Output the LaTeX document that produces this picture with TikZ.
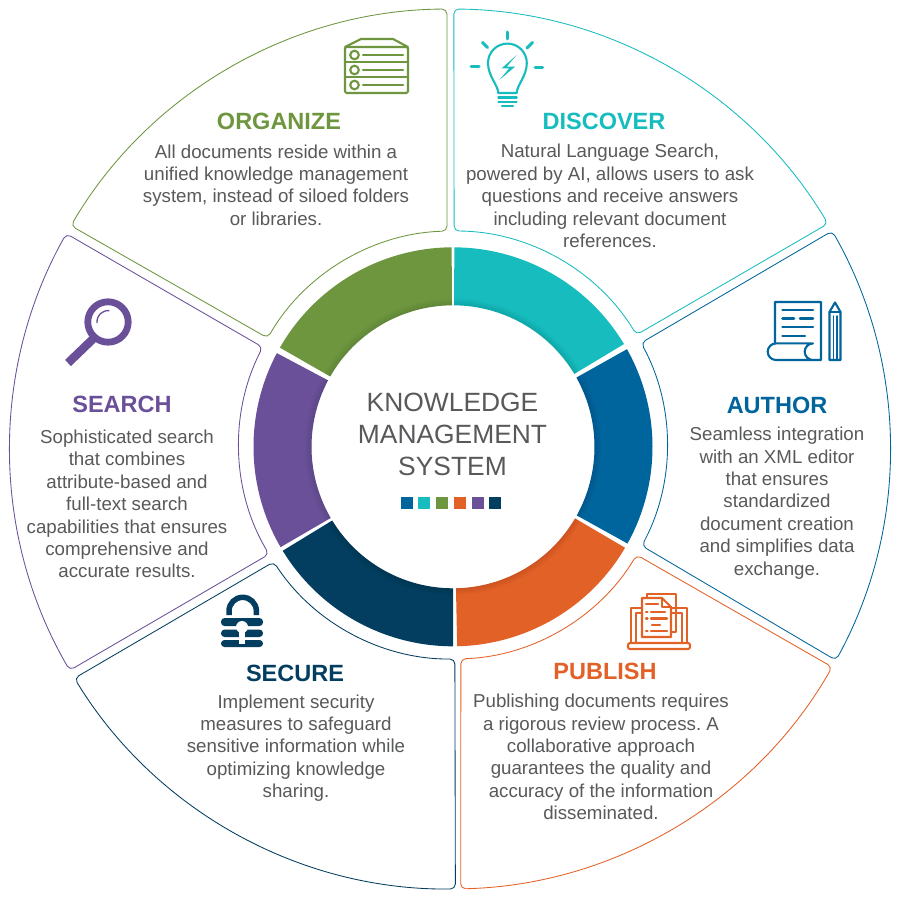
\documentclass[tikz,border=0pt]{standalone}
\usepackage{fontspec}
\setmainfont{Liberation Sans}
\frenchspacing
\definecolor{cCyan}{HTML}{17BCBE}
\definecolor{cGreen}{HTML}{6E963F}
\definecolor{cBlue}{HTML}{00659C}
\definecolor{cOrange}{HTML}{E26127}
\definecolor{cPurple}{HTML}{6A5098}
\definecolor{cNavy}{HTML}{033E60}
\definecolor{cText}{HTML}{58595B}
\tikzset{
  x=1pt,y=1pt,
  paneltitle/.style={font=\fontsize{23.5}{26}\selectfont\bfseries,inner sep=0pt,anchor=center},
  panelbody/.style={font=\fontsize{18.7}{22.4}\selectfont,text=cText,align=center,inner sep=0pt,anchor=center},
  centertext/.style={font=\fontsize{26.4}{32.3}\selectfont,text=cText,align=center,inner sep=0pt,anchor=center},
  chip/.style={inner sep=0pt,minimum size=12pt,draw=none},
  icon/.style={line width=2.1pt,line cap=round,line join=round},
}
% panel: colour, outer a1,a2, inner b1,b2
\newcommand{\panelshape}[5]{%
  \draw[#1,line width=0.85pt,rounded corners=5pt,fill=white]
    ([shift={(450,-449)}]#2:440) arc[start angle=#2,end angle=#3,radius=440]
    -- ([shift={(453,-445)}]#4:214) arc[start angle=#4,end angle=#5,radius=214] -- cycle;}
% ring segment: colour, a1, a2
\newcommand{\ringseg}[3]{%
  \begin{scope}
    \path[clip] ([shift={(453,-446.8)}]#2:199.5) arc[start angle=#2,end angle=#3,radius=199.5]
      -- ([shift={(453,-446.8)}]#3:141.5) arc[start angle=#3,end angle=#2,radius=141.5] -- cycle;
    \fill[#1] (453,-446.8) circle[radius=205];
    \foreach \w in {2,4,...,14}{\draw[black,opacity=0.012,line width=\w pt] (453,-446.8) circle[radius=141.5];}
  \end{scope}}
\begin{document}
\begin{tikzpicture}
\useasboundingbox (0,-904) rectangle (900,0);
\fill[white] (0,-904) rectangle (900,0);

% outer panels
\panelshape{cGreen}{90.4}{149.5}{150}{91.6}
\panelshape{cCyan}{89.5}{30.8}{31}{89.7}
\panelshape{cBlue}{29.7}{-28.7}{-28.1}{28.5}
\panelshape{cOrange}{-88.6}{-29.7}{-30.9}{-87.9}
\panelshape{cNavy}{-89.3}{-148.6}{-146.9}{-89.5}
\panelshape{cPurple}{150.7}{210.2}{210.7}{152.8}

% ring
\ringseg{cGreen}{90.4}{150.2}
\ringseg{cCyan}{89.6}{31}
\ringseg{cBlue}{29.3}{-29}
\ringseg{cOrange}{-30.4}{-88.8}
\ringseg{cNavy}{-90}{-148.6}
\ringseg{cPurple}{152}{210.2}

% centre
\node[centertext] (centre) at (452.5,-434.5) {KNOWLEDGE\\MANAGEMENT\\SYSTEM};
\node[chip,fill=cBlue]   (c1) at (406.5,-503) {};
\node[chip,fill=cCyan]   (c2) at (424,-503) {};
\node[chip,fill=cGreen]  (c3) at (441.5,-503) {};
\node[chip,fill=cOrange] (c4) at (459.5,-503) {};
\node[chip,fill=cPurple] (c5) at (477.5,-503) {};
\node[chip,fill=cNavy]   (c6) at (495,-503) {};

% text
\node[paneltitle,text=cGreen] (t1) at (279,-121) {ORGANIZE};
\node[panelbody] (b1) at (276,-185) {All documents reside within a\\unified knowledge management\\system, instead of siloed folders\\or libraries.};
\node[paneltitle,text=cCyan] (t2) at (604,-121) {DISCOVER};
\node[panelbody] (b2) at (610,-196) {Natural Language Search,\\powered by AI, allows users to ask\\questions and receive answers\\including relevant document\\references.};
\node[paneltitle,text=cBlue] (t3) at (777,-405) {AUTHOR};
\node[panelbody] (b3) at (777,-503) {Seamless integration\\with an XML editor\\that ensures\\standardized\\document creation\\and simplifies data\\exchange.};
\node[paneltitle,text=cOrange] (t4) at (605,-671) {PUBLISH};
\node[panelbody] (b4) at (601,-757) {Publishing documents requires\\a rigorous review process. A\\collaborative approach\\guarantees the quality and\\accuracy of the information\\disseminated.};
\node[paneltitle,text=cNavy] (t5) at (295,-673) {SECURE};
\node[panelbody] (b5) at (296,-748) {Implement security\\measures to safeguard\\sensitive information while\\optimizing knowledge\\sharing.};
\node[paneltitle,text=cPurple] (t6) at (122,-404) {SEARCH};
\node[panelbody] (b6) at (127,-504) {Sophisticated search\\that combines\\attribute-based and\\full-text search\\capabilities that ensures\\comprehensive and\\accurate results.};

% server icon
\begin{scope}[icon,draw=cGreen]
  \draw[rounded corners=1.5pt] (345,-47) -- (345,-93) -- (408,-93) -- (408,-47) -- cycle;
  \draw (345,-47) -- (361,-39) -- (393,-39) -- (408,-47);
  \draw (345,-62) -- (408,-62) (345,-77) -- (408,-77);
  \foreach \yy in {55,70,85}{
    \draw (354.5,-\yy) circle[radius=4.3];
    \draw (363,-\yy) -- (403,-\yy);
  }
\end{scope}

% bulb icon
\begin{scope}[icon,draw=cCyan]
  \draw (498.3,-93) .. controls (498,-85) and (488,-76) .. (488,-63)
    arc[start angle=180,end angle=0,radius=19.4]
    .. controls (526.8,-76) and (517,-85) .. (516.7,-93) -- cycle;
  \draw (498.3,-97.5) -- (516.7,-97.5) (498.3,-101.7) -- (516.7,-101.7) (502,-105.7) -- (513,-105.7);
  \draw[line width=3pt] (507.3,-32) -- (507.3,-39);
  \draw[line width=3pt] (471,-66.7) -- (479,-66.7);
  \draw[line width=3pt] (542.5,-67.7) -- (535,-67.7);
  \draw[line width=3pt] (482.5,-42.5) -- (487.5,-47.5);
  \draw[line width=3pt] (532.5,-42.5) -- (527,-48);
  \fill[cCyan] (516.7,-55) -- (501.7,-68.3) -- (509.3,-68.3) -- (499.3,-80) -- (515,-66.7) -- (506.7,-66.7) -- cycle;
\end{scope}

% author icon
\begin{scope}[icon,draw=cBlue]
  \draw (775,-343.4) -- (775,-302) -- (821,-302) -- (821,-360) -- (776,-360)
     arc[start angle=270,end angle=90,radius=8.3] -- (813,-343.4)
     arc[start angle=90,end angle=270,radius=8.3];
  \draw[line width=2.6pt] (782.5,-310) -- (813,-310) (782.5,-318.5) -- (794,-318.5) (800,-318.5) -- (813,-318.5)
     (782.5,-327) -- (813,-327) (782.5,-336) -- (805,-336);
  \draw (829.5,-360) -- (829.5,-312) -- (835,-302.5) -- (840.5,-312) -- (840.5,-360) -- cycle;
  \draw (829.5,-312) -- (840.5,-312);
  \draw[line width=1.4pt] (833.5,-316) -- (833.5,-359) (836.8,-316) -- (836.8,-359);
\end{scope}

% publish icon
\begin{scope}[icon,draw=cOrange]
  \draw (641,-608) -- (631,-608) -- (631,-643);
  \draw (672,-608) -- (687,-608) -- (687,-643);
  \draw (641,-613) -- (636,-613) -- (636,-643);
  \draw (672,-613) -- (682,-613) -- (682,-643);
  \draw[rounded corners=2pt] (628,-643) rectangle (690,-649);
  \draw (647,-598) -- (647,-594) -- (676,-594) -- (676,-632) -- (671,-632);
  \fill[white] (642,-598) -- (662,-598) -- (671,-607) -- (671,-637) -- (642,-637) -- cycle;
  \draw (642,-598) -- (662,-598) -- (671,-607) -- (671,-637) -- (642,-637) -- cycle;
  \draw (662,-598) -- (662,-607) -- (671,-607);
  \draw (646,-604) -- (658,-604) (651,-612) -- (665,-612) (646,-612) -- (647.5,-612)
    (651,-618.5) -- (667,-618.5) (646,-618.5) -- (647.5,-618.5) (652,-625) -- (660,-625)
    (651,-631) -- (667,-631) (646,-631) -- (647.5,-631);
\end{scope}

% lock icon
\fill[cNavy,rounded corners=3.6pt] (221,-618) rectangle (263,-626);
\fill[cNavy,rounded corners=3.6pt] (221,-629.5) rectangle (263,-637);
\fill[cNavy,rounded corners=3.4pt] (221,-640) rectangle (263,-647);
\draw[cNavy,line width=5.5pt] (229,-615) -- (229,-611) arc[start angle=180,end angle=0,radius=13.7] -- (256.4,-615);
\fill[white] (242,-627) circle[radius=6];
\fill[white] (239,-627) rectangle (245,-644);

% magnifier icon
\draw[cPurple,line width=6.8pt] (108,-322) circle[radius=20.2];
\draw[cPurple,line width=8.5pt] (94,-338) -- (68,-363);
\draw[cPurple,line width=1.3pt] (97,-323) arc[start angle=185,end angle=85,radius=11.5];
\end{tikzpicture}
\end{document}
